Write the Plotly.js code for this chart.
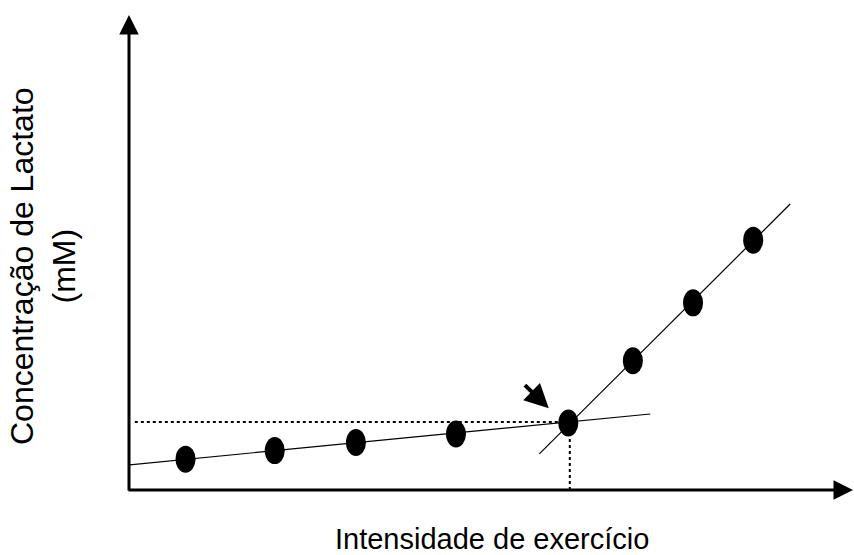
<!DOCTYPE html>
<html>
<head>
<meta charset="utf-8">
<script src="https://cdn.plot.ly/plotly-3.0.1.min.js"></script>
<style>html,body{margin:0;padding:0;background:#fff;}</style>
</head>
<body>
<div id="chart" style="width:854px;height:555px;"></div>
<script>
// Data (arbitrary units)
const intensity = [0.78, 2.01, 3.13, 4.51, 6.06, 6.95, 7.78, 8.61];
const lactate   = [0.65, 0.83, 1.00, 1.18, 1.41, 2.72, 3.94, 5.26];
const lowFitX = [0.01, 7.19];
const lowFitY = [0.53, 1.60];
const highFitX = [5.66, 9.12];
const highFitY = [0.76, 6.02];
const thresholdX = 6.08;
const thresholdY = 1.43;
const pointerTail = [5.44, 2.24];
const pointerTip = [5.79, 1.72];
const xTitle = "Intensidade de exercício";
const yTitle = "Concentração de Lactato<br>(mM)";

const FONT = "Liberation Sans, Arial, sans-serif";

const traces = [
  {x: lowFitX, y: lowFitY, mode: 'lines', line: {color: '#000', width: 1.2}, hoverinfo: 'skip'},
  {x: highFitX, y: highFitY, mode: 'lines', line: {color: '#000', width: 1.2}, hoverinfo: 'skip'},
  {x: [0.08, thresholdX], y: [thresholdY, thresholdY], mode: 'lines', line: {color: '#000', width: 2, dash: 'dot'}, hoverinfo: 'skip'},
  {x: [thresholdX, thresholdX], y: [0, thresholdY], mode: 'lines', line: {color: '#000', width: 2, dash: 'dot'}, hoverinfo: 'skip'},
  {x: intensity, y: lactate, mode: 'markers', marker: {color: '#000', size: 19}}
];

const shapes = intensity.map((xv, i) => ({
  type: 'circle', xref: 'x', yref: 'y',
  xsizemode: 'pixel', ysizemode: 'pixel',
  xanchor: xv, yanchor: lactate[i],
  x0: -10, x1: 10, y0: -13.5, y1: 13.5,
  fillcolor: '#000', line: {width: 0}
}));

const annotations = [
  // y axis with arrow
  {xref: 'paper', yref: 'paper', x: 0, y: 1, ax: 0, ay: 477, axref: 'pixel', ayref: 'pixel',
   text: '', showarrow: true, arrowhead: 2, arrowsize: 1.3, arrowwidth: 3, arrowcolor: '#000', standoff: 0},
  // x axis with arrow
  {xref: 'paper', yref: 'paper', x: 1, y: 0, ax: -727, ay: 0, axref: 'pixel', ayref: 'pixel',
   text: '', showarrow: true, arrowhead: 2, arrowsize: 1.3, arrowwidth: 3, arrowcolor: '#000', standoff: 0},
  // pointer arrow
  {xref: 'x', yref: 'y', x: pointerTip[0], y: pointerTip[1], axref: 'x', ayref: 'y',
   ax: pointerTail[0], ay: pointerTail[1], text: '', showarrow: true, arrowhead: 2,
   arrowsize: 1.2, arrowwidth: 4, arrowcolor: '#000', standoff: 0},
  // titles
  {xref: 'paper', yref: 'paper', x: 0.5, y: 0, xanchor: 'center', yanchor: 'middle', yshift: -49,
   text: xTitle, showarrow: false, font: {family: FONT, size: 29, color: '#000'}},
  {xref: 'paper', yref: 'paper', x: 0, y: 0.4716, xanchor: 'center', yanchor: 'middle', xshift: -86,
   textangle: -90, text: yTitle, showarrow: false, font: {family: FONT, size: 32, color: '#000'}}
];

const layout = {
  width: 854, height: 555,
  margin: {l: 129, r: 0, t: 15, b: 65, pad: 0},
  paper_bgcolor: '#fff', plot_bgcolor: '#fff',
  showlegend: false,
  xaxis: {range: [0, 10], showgrid: false, zeroline: false, showline: false, showticklabels: false, ticks: '', fixedrange: true},
  yaxis: {range: [0, 10], showgrid: false, zeroline: false, showline: false, showticklabels: false, ticks: '', fixedrange: true},
  shapes: shapes,
  annotations: annotations
};

Plotly.newPlot('chart', traces, layout, {displayModeBar: false, staticPlot: true});
</script>
</body>
</html>
